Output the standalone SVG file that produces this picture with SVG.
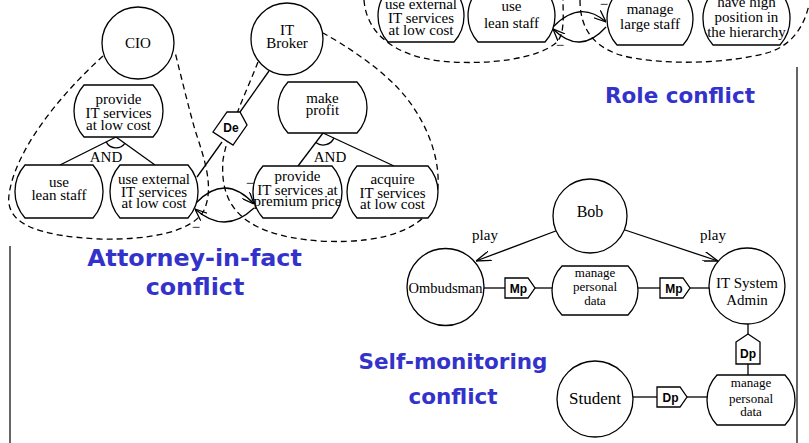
<svg xmlns="http://www.w3.org/2000/svg" width="809" height="443" viewBox="0 0 809 443">
<defs>
<style>
.n{fill:#fff;stroke:#000;stroke-width:1.3}
.t{font-family:"Liberation Serif",serif;font-size:15px;text-anchor:middle;fill:#000}
.s{font-size:13px}
.d{fill:none;stroke:#000;stroke-width:1.3;stroke-dasharray:6 4}
.l{fill:none;stroke:#000;stroke-width:1.3}
.b{font-family:"DejaVu Sans",sans-serif;font-weight:bold;font-size:21.5px;fill:#3333cc;text-anchor:middle}
.m{font-family:"Liberation Sans",sans-serif;font-weight:bold;font-size:12px;text-anchor:middle;fill:#000}
.f{fill:none;stroke:#333;stroke-width:1.5}
</style>
<marker id="ah" viewBox="0 0 12 10" refX="12" refY="5" markerWidth="12" markerHeight="10" markerUnits="userSpaceOnUse" orient="auto"><path d="M0,0 L12,5 L0,10" fill="none" stroke="#000" stroke-width="1.3"/></marker>
<marker id="ap" viewBox="0 0 15 10" refX="15" refY="5" markerWidth="15" markerHeight="10" markerUnits="userSpaceOnUse" orient="auto"><path d="M0,0 L15,5 L0,10" fill="none" stroke="#000" stroke-width="1.3"/></marker>
</defs>
<rect width="809" height="443" fill="#fff"/>

<!-- frame lines -->
<line class="f" x1="10" y1="246" x2="10" y2="443"/>
<line class="f" x1="797" y1="67" x2="797" y2="443"/>

<!-- actor boundaries -->
<g id="boundaries">
<path class="d" d="M103,56 C60,95 15,150 9,195 C5,225 40,236 100,239 C150,240 190,232 203,212 C215,190 205,160 195,130 C188,105 182,80 175,52"/>
<path class="d" d="M258,62 C245,95 228,130 223,160 C220,200 235,235 320,241 C390,245 430,225 437,195 C443,160 425,115 395,85 C375,65 345,45 323,33"/>
<path class="d" d="M364,0 C366,30 390,55 440,61 C490,66 540,58 557,42 C565,33 563,15 563,0"/>
<path class="d" d="M580,0 C580,25 590,45 620,55 C660,66 730,64 770,52 C790,45 803,30 809,5"/>
</g>

<!-- connectors -->
<g id="connectors">
<line class="l" x1="116" y1="137" x2="60" y2="165"/>
<line class="l" x1="116" y1="137" x2="155" y2="165"/>
<path class="l" d="M106.2,141.9 A11,11 0 0 0 124.9,143.4"/>
<line class="l" x1="323" y1="133" x2="298" y2="166"/>
<line class="l" x1="323" y1="133" x2="394" y2="166"/>
<path class="l" d="M315.8,142.6 A12,12 0 0 0 333.9,138.1"/>
<line class="l" x1="269" y1="71" x2="240" y2="112"/>
<line class="l" x1="222" y1="142" x2="197" y2="177"/>
<path class="l" d="M196,203 Q225,172.5 254,204" marker-end="url(#ah)"/>
<path class="l" d="M254,208 Q225,235.5 195,209" marker-end="url(#ah)"/>
<path class="l" d="M553,27 Q580,-1 606,22" marker-end="url(#ah)"/>
<path class="l" d="M606,27 Q580,56 553,29" marker-end="url(#ah)"/>
<line class="l" x1="561" y1="229" x2="476" y2="261" marker-end="url(#ap)"/>
<line class="l" x1="622" y1="229" x2="718" y2="261" marker-end="url(#ap)"/>
<line class="l" x1="484" y1="288" x2="505" y2="288"/>
<line class="l" x1="535" y1="288" x2="552" y2="288"/>
<line class="l" x1="638" y1="288" x2="660" y2="288"/>
<line class="l" x1="690" y1="288" x2="709" y2="288"/>
<line class="l" x1="748" y1="324" x2="748" y2="334"/>
<line class="l" x1="748" y1="364" x2="748" y2="375"/>
<line class="l" x1="633" y1="397" x2="657" y2="397"/>
<line class="l" x1="687" y1="397" x2="707" y2="397"/>
<text class="t" x="106" y="162">AND</text>
<text class="t" x="330" y="162">AND</text>
<text class="t" x="250" y="188">−</text>
<text class="t" x="196" y="232">−</text>
<text class="t" x="604" y="9">−</text>
<text class="t" x="560" y="50">−</text>
<text class="t" x="485" y="240">play</text>
<text class="t" x="713" y="240">play</text>
</g>

<!-- nodes -->
<g id="cio"><circle class="n" cx="138" cy="43" r="36"/><text class="t" x="138" y="48">CIO</text></g>
<g id="itbroker"><circle class="n" cx="287" cy="39" r="36"/><text class="t" x="287" y="35">IT</text><text class="t" x="287" y="48">Broker</text></g>

<g id="g-provide-low"><path class="n" d="M84,85 H153 A38.8,38.8 0 0 1 153,137 H84 A38.8,38.8 0 0 1 84,85 Z"/>
<text class="t" x="118.5" y="104">provide</text><text class="t" x="118.5" y="118">IT services</text><text class="t" x="118.5" y="130">at low cost</text></g>

<g id="g-lean-left"><path class="n" d="M25,165 H93 A40,40 0 0 1 93,218 H25 A40,40 0 0 1 25,165 Z"/>
<text class="t" x="59" y="187">use</text><text class="t" x="59" y="200">lean staff</text></g>

<g id="g-external-left"><path class="n" d="M120,165 H188 A40,40 0 0 1 188,218 H120 A40,40 0 0 1 120,165 Z"/>
<text class="t" x="154" y="184">use external</text><text class="t" x="154" y="196.5">IT services</text><text class="t" x="154" y="208">at low cost</text></g>

<g id="g-profit"><path class="n" d="M288,82 H357 A37.5,37.5 0 0 1 357,133 H288 A37.5,37.5 0 0 1 288,82 Z"/>
<text class="t" x="322.5" y="103">make</text><text class="t" x="322.5" y="115">profit</text></g>

<g id="g-premium"><path class="n" d="M263,166 H332 A38.8,38.8 0 0 1 332,218 H263 A38.8,38.8 0 0 1 263,166 Z"/>
<text class="t" x="297.5" y="181">provide</text><text class="t" x="297.5" y="195">IT services at</text><text class="t" x="297.5" y="206">premium price</text></g>

<g id="g-acquire"><path class="n" d="M357,166 H428 A38.8,38.8 0 0 1 428,218 H357 A38.8,38.8 0 0 1 357,166 Z"/>
<text class="t" x="392.5" y="184">acquire</text><text class="t" x="392.5" y="198">IT services</text><text class="t" x="392.5" y="209">at low cost</text></g>

<g id="g-external-top"><path class="n" d="M388,-10 H454 A38.8,38.8 0 0 1 454,42 H388 A38.8,38.8 0 0 1 388,-10 Z"/>
<text class="t" x="421" y="9">use external</text><text class="t" x="421" y="22.5">IT services</text><text class="t" x="421" y="34.5">at low cost</text></g>

<g id="g-lean-top"><path class="n" d="M478,-10 H545 A38.8,38.8 0 0 1 545,42 H478 A38.8,38.8 0 0 1 478,-10 Z"/>
<text class="t" x="511.5" y="11">use</text><text class="t" x="511.5" y="28">lean staff</text></g>

<g id="g-large-staff"><path class="n" d="M617,-7 H683 A38.8,38.8 0 0 1 683,45 H617 A38.8,38.8 0 0 1 617,-7 Z"/>
<text class="t" x="650" y="14">manage</text><text class="t" x="650" y="29">large staff</text></g>

<g id="g-high-position"><path class="n" d="M713,-8 H780 A40,40 0 0 1 780,45 H713 A40,40 0 0 1 713,-8 Z"/>
<text class="t" x="746.5" y="7">have high</text><text class="t" x="746.5" y="22">position in</text><text class="t" x="746.5" y="37">the hierarchy</text></g>

<g id="de"><polygon class="n" points="227,112 240,112 247,125 233,145 213,132"/><text class="m" x="231" y="132">De</text></g>

<g id="bob"><circle class="n" cx="590" cy="216" r="37"/><text class="t" x="590" y="217" style="font-size:16px">Bob</text></g>
<g id="ombudsman"><circle class="n" cx="445.5" cy="287" r="38.5"/><text class="t" x="445.5" y="293" style="font-size:14.5px">Ombudsman</text></g>
<g id="itadmin"><circle class="n" cx="747" cy="286" r="38"/><text class="t" x="747" y="288">IT System</text><text class="t" x="747" y="305">Admin</text></g>
<g id="student"><circle class="n" cx="595" cy="399" r="38"/><text class="t" x="595" y="404" style="font-size:17px">Student</text></g>

<g id="g-manage-mid"><path class="n" d="M562,266 H628 A35,35 0 0 1 628,315 H562 A35,35 0 0 1 562,266 Z"/>
<text class="t s" x="595" y="276.5">manage</text><text class="t s" x="595" y="290.5">personal</text><text class="t s" x="595" y="305">data</text></g>

<g id="g-manage-bottom"><path class="n" d="M717,375 H785 A36.25,36.25 0 0 1 785,425 H717 A36.25,36.25 0 0 1 717,375 Z"/>
<text class="t s" x="751" y="387">manage</text><text class="t s" x="751" y="402.5">personal</text><text class="t s" x="751" y="416">data</text></g>

<g id="mp1"><path class="n" d="M505,278 H528 L535,288 L528,298 H505 Z"/><text class="m" x="518.5" y="292.5">Mp</text></g>
<g id="mp2"><path class="n" d="M660,278 H683 L690,288 L683,298 H660 Z"/><text class="m" x="674" y="292.5">Mp</text></g>
<g id="dp1"><path class="n" d="M736,342 L748,334 L760,342 V364 H736 Z"/><text class="m" x="748" y="358">Dp</text></g>
<g id="dp2"><path class="n" d="M657,387 H680 L687,397 L680,407 H657 Z"/><text class="m" x="670.5" y="401.5">Dp</text></g>

<!-- section titles -->
<g id="titles">
<text class="b" x="680" y="103">Role conflict</text>
<text class="b" x="194.5" y="266" style="font-size:23.8px">Attorney-in-fact</text>
<text class="b" x="195" y="295" style="font-size:23.8px">conflict</text>
<text class="b" x="453" y="369">Self-monitoring</text>
<text class="b" x="453" y="404">conflict</text>
</g>
</svg>
